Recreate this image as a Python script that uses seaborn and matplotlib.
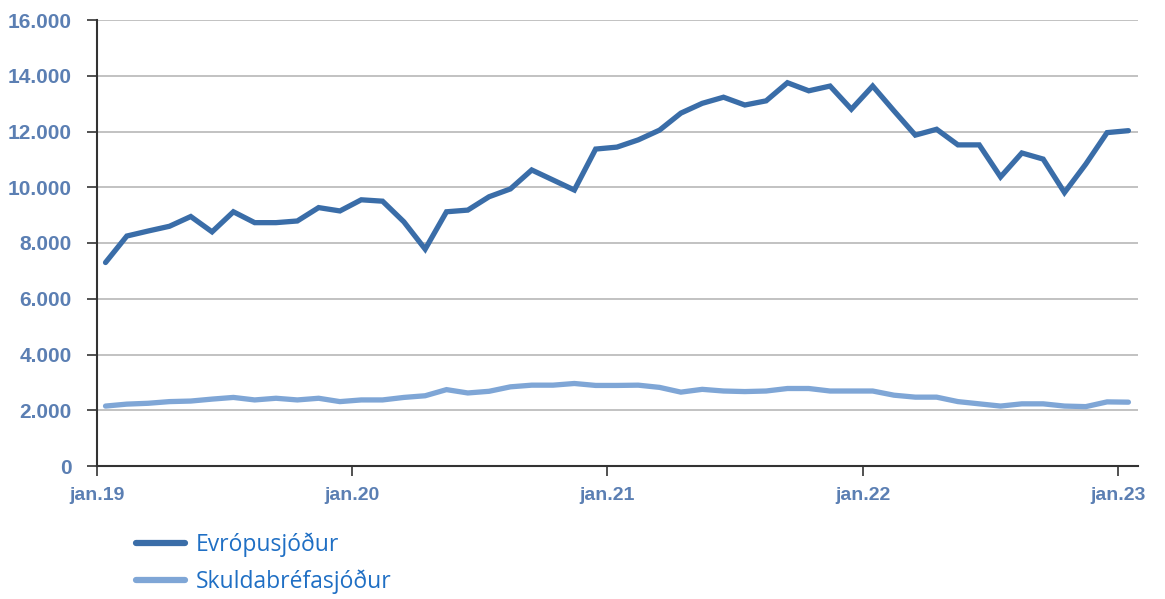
import pandas as pd
import matplotlib.pyplot as plt
import seaborn as sns
from matplotlib.lines import Line2D
from matplotlib.ticker import FuncFormatter

# Gögn: mánaðarleg staða frá jan.19 til jan.23
evropusjodur = [7300, 8250, 8430, 8600, 8950, 8400, 9120, 8730, 8730, 8790,
                9270, 9150, 9550, 9500, 8760, 7780, 9120, 9180, 9660, 9940,
                10620, 10260, 9900, 11370, 11440, 11700, 12050, 12660, 13010, 13230,
                12950, 13100, 13750, 13460, 13630, 12800, 13630, 12740, 11870, 12080,
                11520, 11520, 10370, 11230, 11010, 9810, 10830, 11960, 12030]
skuldabrefasjodur = [2150, 2220, 2250, 2310, 2330, 2400, 2460, 2370, 2430, 2370,
                     2430, 2310, 2370, 2370, 2460, 2520, 2740, 2620, 2680, 2840,
                     2900, 2900, 2960, 2890, 2890, 2900, 2820, 2650, 2750, 2690,
                     2670, 2690, 2780, 2780, 2690, 2690, 2690, 2540, 2470, 2470,
                     2310, 2230, 2150, 2230, 2230, 2150, 2130, 2300, 2290]
tick_labels = ["jan.19", "jan.20", "jan.21", "jan.22", "jan.23"]
series_names = ["Evrópusjóður", "Skuldabréfasjóður"]

man = list(range(len(evropusjodur)))
df = pd.concat([
    pd.DataFrame({"man": man, "gildi": evropusjodur, "sjodur": series_names[0]}),
    pd.DataFrame({"man": man, "gildi": skuldabrefasjodur, "sjodur": series_names[1]}),
], ignore_index=True)

sns.set_theme(style="white")
plt.rcParams["font.family"] = ["Liberation Sans", "DejaVu Sans"]

litir = {series_names[0]: "#3a6da8", series_names[1]: "#7fa6d6"}
ax_litur = "#5b7fb3"

fig = plt.figure(figsize=(11.65, 5.99), dpi=100)
ax = fig.add_axes([97 / 1165, 1 - 466 / 599, (1138 - 97) / 1165, (466 - 20) / 599])

sns.lineplot(data=df, x="man", y="gildi", hue="sjodur", palette=litir,
             linewidth=3.8, ax=ax, legend=False, solid_joinstyle="miter")

ax.set_xlim(-0.4, 48.45)
ax.set_ylim(0, 16000)
ax.set_yticks(range(0, 16001, 2000))
ax.yaxis.set_major_formatter(FuncFormatter(lambda v, p: f"{int(v):,}".replace(",", ".")))
ax.set_xticks([-0.4, 11.55, 23.55, 35.55, 47.5])
ax.set_xticklabels(tick_labels)
ax.set_xlabel("")
ax.set_ylabel("")

ax.grid(axis="y", color="#bdbdbd", linewidth=1.3)
ax.set_axisbelow(True)
for s in ["top", "right"]:
    ax.spines[s].set_visible(False)
for s in ["left", "bottom"]:
    ax.spines[s].set_color("#333333")
    ax.spines[s].set_linewidth(1.5)

ax.tick_params(axis="both", which="major", direction="out", length=7, width=1.2,
               color="#333333", left=True, bottom=True)
ax.tick_params(axis="y", pad=11)
ax.tick_params(axis="x", pad=8)
for lab in ax.get_yticklabels():
    lab.set_color(ax_litur)
    lab.set_fontsize(15)
    lab.set_fontweight("bold")
for lab in ax.get_xticklabels():
    lab.set_color(ax_litur)
    lab.set_fontsize(14)
    lab.set_fontweight("bold")
    lab.set_family(["Liberation Sans Narrow", "Liberation Sans", "DejaVu Sans"])

handles = [Line2D([0], [0], color=litir[n], linewidth=4.5, solid_capstyle="round") for n in series_names]
leg = fig.legend(handles, series_names, loc="upper left", bbox_to_anchor=(125 / 1165, 1 - 521 / 599),
                 frameon=False, handlelength=2.1, handletextpad=0.5,
                 labelspacing=0.55, borderpad=0, prop={"family": ["Open Sans", "DejaVu Sans"], "size": 16.5})
for t in leg.get_texts():
    t.set_color("#1f6fc4")

fig.savefig("out.png", dpi=100)
